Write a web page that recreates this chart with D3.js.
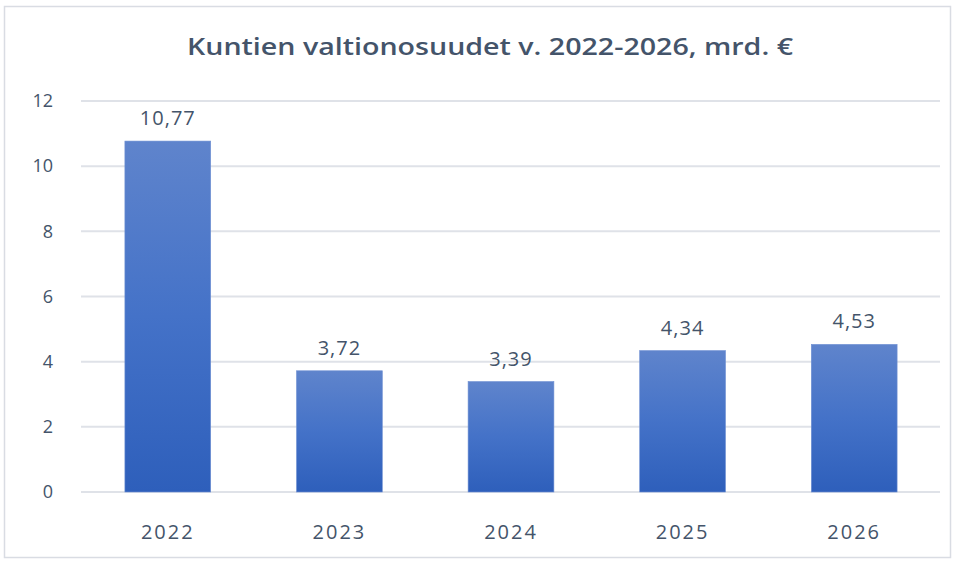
<!DOCTYPE html>
<html>
<head>
<meta charset="utf-8">
<script src="https://cdn.jsdelivr.net/npm/d3@7"></script>
<style>
  body { margin: 0; background: #fff; }
  text { font-family: "Open Sans", "Noto Sans", sans-serif; fill: #44546A; }
</style>
</head>
<body>
<div id="chart"></div>
<script>
//Data
var years = ["2022", "2023", "2024", "2025", "2026"];
var values = [10.77, 3.72, 3.39, 4.34, 4.53];
var yTicks = [0, 2, 4, 6, 8, 10, 12];
var title = "Kuntien valtionosuudet v. 2022-2026, mrd. €";

var width = 958, height = 563;
var margin = {top: 101, right: 18, bottom: 71, left: 81};

var svg = d3.select("#chart").append("svg")
	.attr("width", width)
	.attr("height", height);

//Gradient for bars
var grad = svg.append("defs").append("linearGradient")
	.attr("id", "barGrad")
	.attr("x1", 0).attr("y1", 0).attr("x2", 0).attr("y2", 1);
grad.append("stop").attr("offset", "0%").attr("stop-color", "#5F84CC");
grad.append("stop").attr("offset", "50%").attr("stop-color", "#4472C8");
grad.append("stop").attr("offset", "100%").attr("stop-color", "#2E5FBB");

//Outer frame
svg.append("rect")
	.attr("x", 4.5).attr("y", 6.5)
	.attr("width", 946).attr("height", 551)
	.attr("fill", "none")
	.attr("stroke", "#D9DCE3")
	.attr("stroke-width", 1.5);

var x = d3.scaleBand()
	.domain(years)
	.range([margin.left + 1, width - margin.right])
	.paddingInner(0.5)
	.paddingOuter(0.25);

var y = d3.scaleLinear()
	.domain([0, 12])
	.range([height - margin.bottom, margin.top]);

//Gridlines
svg.append("g").selectAll("line")
	.data(yTicks)
	.enter().append("line")
	.attr("x1", margin.left)
	.attr("x2", width - margin.right)
	.attr("y1", function(d) { return y(d); })
	.attr("y2", function(d) { return y(d); })
	.attr("stroke", "#DFE2E8")
	.attr("stroke-width", 2);

//Y axis labels
svg.append("g").selectAll("text")
	.data(yTicks)
	.enter().append("text")
	.attr("x", 53)
	.attr("y", function(d) { return y(d); })
	.attr("dy", "0.35em")
	.attr("text-anchor", "end")
	.style("font-size", "18px")
	.text(function(d) { return d; });

//Bars
svg.append("g").selectAll("rect")
	.data(values)
	.enter().append("rect")
	.attr("x", function(d, i) { return x(years[i]); })
	.attr("width", x.bandwidth())
	.attr("y", function(d) { return y(d); })
	.attr("height", function(d) { return y(0) - y(d); })
	.attr("fill", "url(#barGrad)")
	.attr("stroke", "#6E8FD2")
	.attr("stroke-width", 0.6);

//Value labels
svg.append("g").selectAll("text")
	.data(values)
	.enter().append("text")
	.attr("x", function(d, i) { return x(years[i]) + x.bandwidth() / 2; })
	.attr("y", function(d) { return y(d) - 16; })
	.attr("text-anchor", "middle")
	.style("font-size", "20px")
	.style("letter-spacing", "1px")
	.text(function(d) { return d.toFixed(2).replace(".", ","); });

//Category labels
svg.append("g").selectAll("text")
	.data(years)
	.enter().append("text")
	.attr("x", function(d) { return x(d) + x.bandwidth() / 2; })
	.attr("y", 539)
	.attr("text-anchor", "middle")
	.style("font-size", "20px")
	.style("letter-spacing", "2px")
	.text(function(d) { return d; });

//Title
svg.append("text")
	.attr("x", 490)
	.attr("y", 55)
	.attr("text-anchor", "middle")
	.style("font-size", "23px")
	.style("font-weight", "600")
	.attr("textLength", 606)
	.attr("lengthAdjust", "spacingAndGlyphs")
	.text(title);
</script>
</body>
</html>
